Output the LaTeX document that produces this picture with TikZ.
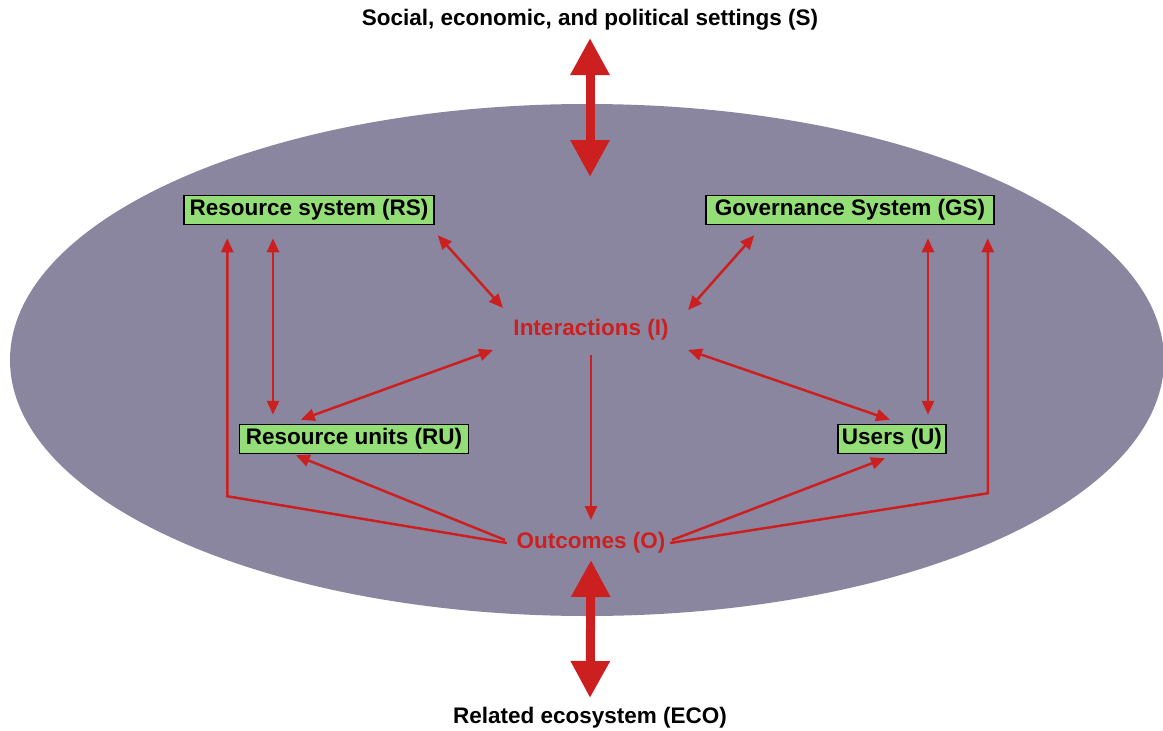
\documentclass[tikz,border=0pt]{standalone}
\usepackage{fontspec}
\setmainfont{Liberation Sans}
\usetikzlibrary{arrows.meta,calc}
\definecolor{ellfill}{RGB}{139,134,160}
\definecolor{boxgreen}{RGB}{148,222,120}
\definecolor{arrred}{RGB}{204,32,32}
\begin{document}
\begin{tikzpicture}[x=1pt,y=-1pt,
  lbl/.style={font=\fontsize{22.5}{26}\selectfont\bfseries},
  gbox/.style={lbl,draw=black,line width=1.5pt,fill=boxgreen,minimum height=29pt,inner sep=1pt},
  rtxt/.style={lbl,text=arrred},
  tw/.style={draw=arrred,line width=2.5pt,{Triangle[length=14pt,width=12pt]}-{Triangle[length=14pt,width=12pt]}},
  tone/.style={draw=arrred,line width=2.5pt,-{Triangle[length=14pt,width=12pt]}},
  thick2/.style={draw=arrred,line width=9pt,{Triangle[length=37pt,width=37pt]}-{Triangle[length=37pt,width=37pt]}}]
\useasboundingbox (0,0) rectangle (1163,731);
\fill[white] (0,0) rectangle (1163,731);
\fill[ellfill] (587,360) ellipse [x radius=577, y radius=256];
% nodes
\node[gbox,minimum width=250pt] (RS) at (309,210) {Resource system (RS)};
\node[gbox,minimum width=288pt] (GS) at (850,210) {Governance System (GS)};
\node[gbox,minimum width=229pt] (RU) at (354,439) {Resource units (RU)};
\node[gbox,minimum width=108pt] (U) at (892,439) {Users (U)};
\node[rtxt] (I) at (591,330) {Interactions (I)};
\node[rtxt] (O) at (591,543) {Outcomes (O)};
\node[lbl] (S) at (590,20) {Social, economic, and political settings (S)};
\node[lbl] (E) at (590,718) {Related ecosystem (ECO)};
% thick arrows
\draw[thick2] ($(S)+(0,18)$) -- ($(S)+(0,157)$);
\draw[thick2] ($(O)+(0,17)$) -- ($(E)+(0,-20)$);
% thin arrows
\draw[tw] ($(RS.south)+(-36,13)$) -- ($(RU.north)+(-81,-9)$);
\draw[tw] ($(GS.south)+(78,13)$) -- ($(U.north)+(36,-9)$);
\draw[tw] ($(RS.south east)+(3,10)$) -- ($(I)+(-88,-22)$);
\draw[tw] ($(GS.south west)+(49,10)$) -- ($(I)+(97,-20)$);
\draw[tw] ($(I)+(-98,20)$) -- ($(RU.north west)+(62,-4)$);
\draw[tw] ($(I)+(97,20)$) -- ($(U.north)+(-2,-4)$);
\draw[tone] ($(I)+(0,25)$) -- ($(O)+(0,-23)$);
\draw[tone] ($(O)+(-86,-3)$) -- ($(RU.south west)+(57,1)$);
\draw[tone] ($(O)+(81,-3)$) -- ($(U.south)+(-7,4)$);
\draw[tone,line join=miter] ($(O)+(-84,0)$) -- ($(RS.south west)+(44,271)$) -- ($(RS.south west)+(44,13)$);
\draw[tone,line join=miter] ($(O)+(79,0)$) -- ($(GS.south east)+(-7,268)$) -- ($(GS.south east)+(-7,13)$);
\end{tikzpicture}
\end{document}
